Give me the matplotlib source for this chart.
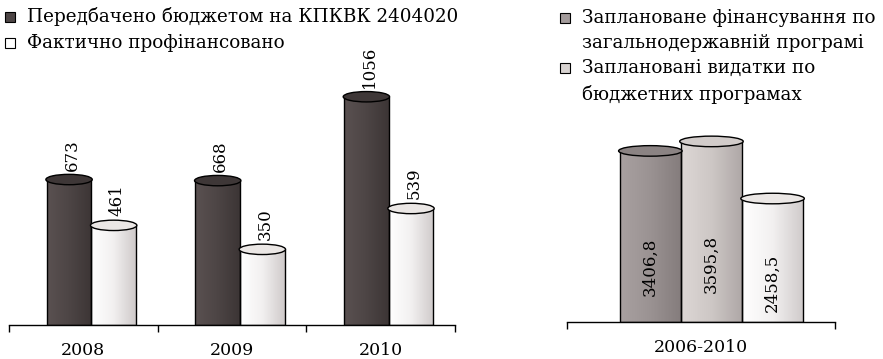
import numpy as np
import matplotlib.pyplot as plt
from matplotlib.patches import Ellipse, Rectangle
from matplotlib.colors import LinearSegmentedColormap

plt.rcParams['font.family'] = ['DejaVu Serif']

# left panel: budget per year
years = ['2008', '2009', '2010']
planned = [673, 668, 1056]
financed = [461, 350, 539]
left_legend = ['Передбачено бюджетом на КПКВК 2404020',
               'Фактично профінансовано']

# right panel: whole period
period = ['2006-2010']
state_program = [3406.8]
budget_programs = [3595.8]
actual_total = [2458.5]
right_legend = ['Заплановане фінансування по\nзагальнодержавній програмі',
                'Заплановані видатки по\nбюджетних програмах']

W, H = 883, 359
fig = plt.figure(figsize=(W / 100, H / 100), dpi=100)

styles = {
    'dark': (['#5a5151', '#4d4545', '#3c3535'], '#3e3737'),
    'white': (['#ffffff', '#f2f0f0', '#cfcaca'], '#ebe7e5'),
    'gray': (['#a9a1a1', '#9a9292', '#847c7c'], '#8b8383'),
    'light': (['#ddd7d5', '#cdc7c5', '#aea7a6'], '#d2ccca'),
}
legend_fill = {'dark': '#4d4545', 'white': '#ffffff',
               'gray': '#a39b9b', 'light': '#d8d3d1'}
LEG_FS = 13.2


def px_axes(x0, x1, base, top):
    return fig.add_axes([x0 / W, 1 - base / H, (x1 - x0) / W, (base - top) / H])


def cylinders(ax, xs, vals, width, style, ell_h):
    cols, top_col = styles[style]
    cmap = LinearSegmentedColormap.from_list(style, cols)
    grad = np.linspace(0, 1, 256).reshape(1, -1)
    bars = ax.bar(xs, vals, width, color='none', edgecolor='black', lw=1.0, zorder=2)
    for b, x, v in zip(bars, xs, vals):
        im = ax.imshow(grad, cmap=cmap, aspect='auto', zorder=1,
                       extent=(x - width / 2, x + width / 2, 0, v))
        im.set_clip_path(b)
        ax.add_patch(Ellipse((x, v), width * 1.04, ell_h, facecolor=top_col,
                             edgecolor='black', lw=1.0, zorder=3))
    return bars


def style_axis(ax, n, labels, ymax):
    ax.set_xlim(-0.5, n - 0.5)
    ax.set_ylim(0, ymax)
    for s in ['left', 'right', 'top']:
        ax.spines[s].set_visible(False)
    ax.spines['bottom'].set_linewidth(1.0)
    ax.set_yticks([])
    ax.set_xticks(np.arange(n + 1) - 0.5)
    ax.set_xticklabels([])
    ax.tick_params(axis='x', which='major', direction='out', length=5, width=1)
    ax.set_xticks(np.arange(n), minor=True)
    ax.set_xticklabels(labels, minor=True, fontsize=12.5)
    ax.tick_params(axis='x', which='minor', length=0, pad=12)


# left chart
axl = px_axes(9, 455, 325, 44)
x = np.arange(len(years))
w = 0.30
shift = 0.054
cylinders(axl, x + shift - w / 2, planned, w, 'dark', 48)
cylinders(axl, x + shift + w / 2, financed, w, 'white', 48)
for xs, vals in [(x + shift - w / 2, planned), (x + shift + w / 2, financed)]:
    for xx, v in zip(xs, vals):
        axl.annotate(str(v), (xx, v), xytext=(3, 9), textcoords='offset pixels',
                     rotation=90, ha='center', va='bottom', fontsize=12)
style_axis(axl, len(years), years, 1300)

# right chart
axr = px_axes(567, 835, 322, 96)
wr = 0.228
sr = 0.039
series = [(state_program, 'gray'), (budget_programs, 'light'), (actual_total, 'white')]
for i, (vals, st) in enumerate(series):
    xs = np.arange(len(period)) + sr + (i - 1) * wr
    cylinders(axr, xs, vals, wr, st, 210)
    for xx, v in zip(xs, vals):
        axr.text(xx, v * 0.32, f'{v:.1f}'.replace('.', ','), rotation=90,
                 ha='center', va='center', fontsize=12)
style_axis(axr, len(period), period, 4500)


# legends
def legend_item(x, y, fill, label):
    fig.add_artist(Rectangle((x / W, 1 - (y + 5) / H), 10 / W, 10 / H,
                             transform=fig.transFigure, facecolor=legend_fill[fill],
                             edgecolor='black', lw=0.8))
    fig.text((x + 22) / W, 1 - y / H, label, ha='left', va='center', fontsize=LEG_FS)


legend_item(5, 17, 'dark', left_legend[0])
legend_item(5, 43, 'white', left_legend[1])
for (y0, y1), fill, label in zip([(18, 43), (68, 94)], ['gray', 'light'], right_legend):
    first, second = label.split('\n')
    legend_item(560, y0, fill, first)
    fig.text(582 / W, 1 - y1 / H, second, ha='left', va='center', fontsize=LEG_FS)

fig.savefig('out.png', dpi=100)
